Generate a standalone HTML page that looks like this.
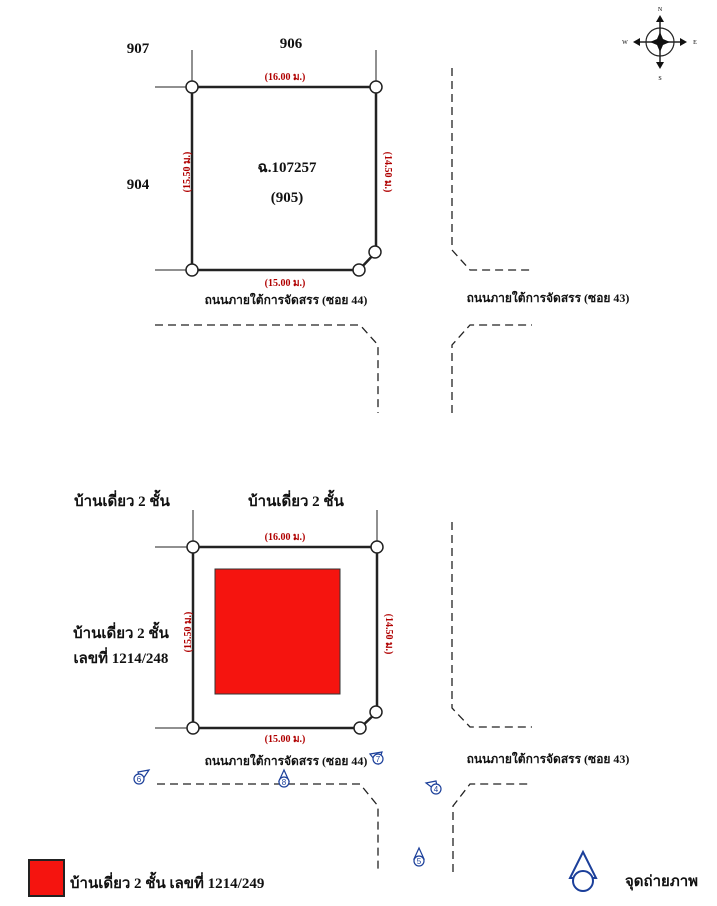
<!DOCTYPE html>
<html><head><meta charset="utf-8"><style>
html,body{margin:0;padding:0;background:#fff;}
svg{display:block;}
text{font-family:"Liberation Serif","Noto Serif CJK SC",serif;}
.lb{font-size:15px;font-weight:bold;fill:#111;}
.rd{font-size:10px;font-weight:bold;fill:#b00000;}
.rl{font-size:12px;font-weight:bold;fill:#111;}
.ds{fill:none;stroke:#222;stroke-width:1.3;stroke-dasharray:8,5;}
.pl{fill:none;stroke:#222;stroke-width:2.5;}
.th{stroke:#222;stroke-width:1;}
.nd{fill:#fff;stroke:#222;stroke-width:1.5;}
.cm{fill:#fff;stroke:#1b3f9a;stroke-width:1.2;}
.cn{font-size:8px;fill:#1b3f9a;font-family:"Liberation Sans",sans-serif;}
</style></head><body>
<svg width="717" height="906" viewBox="0 0 717 906" xmlns="http://www.w3.org/2000/svg">
<g transform="translate(660,42)">
<circle r="14" fill="none" stroke="#222" stroke-width="1.2"/>
<line x1="-22" y1="0" x2="22" y2="0" stroke="#222" stroke-width="1.5"/>
<line x1="0" y1="-22" x2="0" y2="22" stroke="#222" stroke-width="1.5"/>
<polygon points="0,-10 3,-3 10,0 3,3 0,10 -3,3 -10,0 -3,-3" fill="#111"/>
<polygon points="0,-27 -4,-20 4,-20" fill="#111"/>
<polygon points="0,27 -4,20 4,20" fill="#111"/>
<polygon points="-27,0 -20,-4 -20,4" fill="#111"/>
<polygon points="27,0 20,-4 20,4" fill="#111"/>
<text x="0" y="-31" font-size="6" text-anchor="middle" font-family="Liberation Sans">N</text>
<text x="0" y="38" font-size="6" text-anchor="middle" font-family="Liberation Sans">S</text>
<text x="-35" y="2" font-size="6" text-anchor="middle" font-family="Liberation Sans">W</text>
<text x="35" y="2" font-size="6" text-anchor="middle" font-family="Liberation Sans">E</text>
</g>

<g>
<line class="th" x1="155" y1="87" x2="192" y2="87"/>
<line class="th" x1="155" y1="270" x2="192" y2="270"/>
<line class="th" x1="192" y1="50" x2="192" y2="87"/>
<line class="th" x1="376" y1="50" x2="376" y2="87"/>
<polyline class="pl" points="192,87 376,87 376,252 359,270 192,270 192,87"/>
<circle class="nd" cx="192" cy="87" r="6"/><circle class="nd" cx="376" cy="87" r="6"/>
<circle class="nd" cx="192" cy="270" r="6"/><circle class="nd" cx="375" cy="252" r="6"/>
<circle class="nd" cx="359" cy="270" r="6"/>
<text class="lb" x="138" y="53" text-anchor="middle">907</text>
<text class="lb" x="291" y="48" text-anchor="middle">906</text>
<text class="lb" x="138" y="189" text-anchor="middle">904</text>
<text class="rd" x="285" y="80" text-anchor="middle">(16.00 ม.)</text>
<text class="rd" x="285" y="286" text-anchor="middle">(15.00 ม.)</text>
<text class="rd" transform="translate(190,172) rotate(-90)" text-anchor="middle">(15.50 ม.)</text>
<text class="rd" transform="translate(385,172) rotate(90)" text-anchor="middle">(14.50 ม.)</text>
<text class="lb" x="287" y="172" text-anchor="middle">ฉ.107257</text>
<text class="lb" x="287" y="202" text-anchor="middle">(905)</text>
<text class="rl" x="286" y="304" text-anchor="middle">ถนนภายใต้การจัดสรร (ซอย 44)</text>
<text class="rl" x="548" y="302" text-anchor="middle">ถนนภายใต้การจัดสรร (ซอย 43)</text>
<polyline class="ds" points="452,68 452,250 470,270 532,270"/>
<polyline class="ds" points="155,325 360,325 378,345 378,413"/>
<polyline class="ds" points="452,413 452,345 470,325 532,325"/>
</g>

<g>
<line class="th" x1="155" y1="547" x2="193" y2="547"/>
<line class="th" x1="155" y1="728" x2="193" y2="728"/>
<line class="th" x1="193" y1="510" x2="193" y2="547"/>
<line class="th" x1="377" y1="510" x2="377" y2="547"/>
<polyline class="pl" points="193,547 377,547 377,712 360,728 193,728 193,547"/>
<rect x="215" y="569" width="125" height="125" fill="#f5140f" stroke="#333" stroke-width="1"/>
<circle class="nd" cx="193" cy="547" r="6"/><circle class="nd" cx="377" cy="547" r="6"/>
<circle class="nd" cx="193" cy="728" r="6"/><circle class="nd" cx="376" cy="712" r="6"/>
<circle class="nd" cx="360" cy="728" r="6"/>
<text class="lb" x="122" y="506" text-anchor="middle">บ้านเดี่ยว 2 ชั้น</text>
<text class="lb" x="296" y="506" text-anchor="middle">บ้านเดี่ยว 2 ชั้น</text>
<text class="lb" x="121" y="638" text-anchor="middle">บ้านเดี่ยว 2 ชั้น</text>
<text class="lb" x="121" y="663" text-anchor="middle">เลขที่ 1214/248</text>
<text class="rd" x="285" y="742" text-anchor="middle">(15.00 ม.)</text>
<text class="rd" x="285" y="540" text-anchor="middle">(16.00 ม.)</text>
<text class="rd" transform="translate(191,632) rotate(-90)" text-anchor="middle">(15.50 ม.)</text>
<text class="rd" transform="translate(386,634) rotate(90)" text-anchor="middle">(14.50 ม.)</text>
<text class="rl" x="286" y="765" text-anchor="middle">ถนนภายใต้การจัดสรร (ซอย 44)</text>
<text class="rl" x="548" y="763" text-anchor="middle">ถนนภายใต้การจัดสรร (ซอย 43)</text>
<polyline class="ds" points="452,522 452,708 470,727 532,727"/>
<polyline class="ds" points="157,784 360,784 378,806 378,870"/>
<polyline class="ds" points="453,872 453,806 470,784 532,784"/>
</g>

<g>
<polygon class="cm" points="138,772 149,770 141,782"/><circle class="cm" cx="139" cy="779" r="5"/><text class="cn" x="139" y="782" text-anchor="middle">6</text>
<polygon class="cm" points="284,770 279,781 289,781"/><circle class="cm" cx="284" cy="782" r="5"/><text class="cn" x="284" y="785" text-anchor="middle">8</text>
<polygon class="cm" points="370,754 382,752 378,764"/><circle class="cm" cx="378" cy="759" r="5"/><text class="cn" x="378" y="762" text-anchor="middle">7</text>
<polygon class="cm" points="426,783 436,781 438,792"/><circle class="cm" cx="436" cy="789" r="5"/><text class="cn" x="436" y="792" text-anchor="middle">4</text>
<polygon class="cm" points="419,848 414,859 424,859"/><circle class="cm" cx="419" cy="861" r="5"/><text class="cn" x="419" y="864" text-anchor="middle">5</text>
</g>

<rect x="29" y="860" width="35" height="36" fill="#f5140f" stroke="#222" stroke-width="2"/>
<text class="lb" x="70" y="888">บ้านเดี่ยว 2 ชั้น เลขที่ 1214/249</text>
<polygon points="583,852 570,878 596,878" fill="#fff" stroke="#1b3f9a" stroke-width="2"/>
<circle cx="583" cy="881" r="10" fill="#fff" stroke="#1b3f9a" stroke-width="2"/>
<text class="lb" x="625" y="886" font-size="14">จุดถ่ายภาพ</text>
</svg>
</body></html>
